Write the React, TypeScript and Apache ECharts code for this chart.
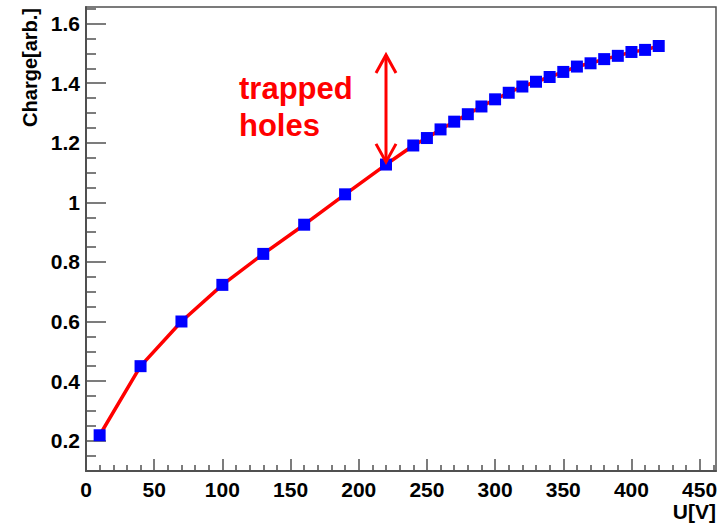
import React, { useEffect, useRef } from 'react';
import * as echarts from 'echarts';

const voltages = [10, 40, 70, 100, 130, 160, 190, 220, 240, 250, 260, 270, 280, 290, 300, 310, 320, 330, 340, 350, 360, 370, 380, 390, 400, 410, 420];
const charges = [0.218, 0.45, 0.6, 0.723, 0.827, 0.925, 1.027, 1.127, 1.191, 1.216, 1.245, 1.271, 1.296, 1.322, 1.346, 1.368, 1.389, 1.405, 1.421, 1.438, 1.456, 1.467, 1.481, 1.492, 1.505, 1.512, 1.525];

const xMajorTicks = [0, 50, 100, 150, 200, 250, 300, 350, 400, 450];
const xMinorTicks = [10, 20, 30, 40, 60, 70, 80, 90, 110, 120, 130, 140, 160, 170, 180, 190, 210, 220, 230, 240, 260, 270, 280, 290, 310, 320, 330, 340, 360, 370, 380, 390, 410, 420, 430, 440, 460];
const yMajorTicks = [0.2, 0.4, 0.6, 0.8, 1, 1.2, 1.4, 1.6];
const yMinorTicks = [0.1, 0.15, 0.25, 0.3, 0.35, 0.45, 0.5, 0.55, 0.65, 0.7, 0.75, 0.85, 0.9, 0.95, 1.05, 1.1, 1.15, 1.25, 1.3, 1.35, 1.45, 1.5, 1.55, 1.65];

const xRange = [0, 462];
const yRange = [0.098, 1.656];

const xTitle = 'U[V]';
const yTitle = 'Charge[arb.]';
const annotationText = 'trapped\nholes';
const arrowX = 220;
const arrowTop = 1.495;
const arrowBottom = 1.136;

const FONT = "'Liberation Sans', Arial, sans-serif";
const AXIS_COLOR = '#505050';

export default function App() {
  const ref = useRef<HTMLDivElement>(null);

  useEffect(() => {
    document.body.style.margin = '0';
    if (!ref.current) return;
    const chart = echarts.init(ref.current, undefined, { renderer: 'svg' });

    const hiddenAxisBase = {
      axisLine: { show: false },
      axisLabel: { show: false },
      splitLine: { show: false },
    };

    chart.setOption({
      animation: false,
      backgroundColor: '#ffffff',
      grid: {
        left: 86,
        top: 7,
        right: 6,
        bottom: 57,
        show: true,
        borderColor: AXIS_COLOR,
        borderWidth: 1.5,
        backgroundColor: 'transparent',
      },
      xAxis: [
        {
          type: 'value',
          min: xRange[0],
          max: xRange[1],
          position: 'bottom',
          axisLine: { show: true, lineStyle: { color: AXIS_COLOR, width: 2 } },
          axisTick: {
            show: true,
            inside: true,
            length: 12,
            customValues: xMajorTicks,
            lineStyle: { color: AXIS_COLOR, width: 1.5 },
          },
          axisLabel: {
            customValues: xMajorTicks,
            margin: 8,
            color: '#000',
            fontFamily: FONT,
            fontWeight: 'bold',
            fontSize: 21,
          },
          splitLine: { show: false },
        },
        {
          type: 'value',
          min: xRange[0],
          max: xRange[1],
          position: 'bottom',
          ...hiddenAxisBase,
          axisTick: {
            show: true,
            inside: true,
            length: 6,
            customValues: xMinorTicks,
            lineStyle: { color: AXIS_COLOR, width: 1.5 },
          },
        },
      ],
      yAxis: [
        {
          type: 'value',
          min: yRange[0],
          max: yRange[1],
          position: 'left',
          axisLine: { show: true, lineStyle: { color: AXIS_COLOR, width: 2 } },
          axisTick: {
            show: true,
            inside: true,
            length: 20,
            customValues: yMajorTicks,
            lineStyle: { color: AXIS_COLOR, width: 1.5 },
          },
          axisLabel: {
            customValues: yMajorTicks,
            margin: 6,
            color: '#000',
            fontFamily: FONT,
            fontWeight: 'bold',
            fontSize: 21,
            formatter: (v: number) => String(Math.round(v * 10) / 10),
          },
          splitLine: { show: false },
        },
        {
          type: 'value',
          min: yRange[0],
          max: yRange[1],
          position: 'left',
          ...hiddenAxisBase,
          axisTick: {
            show: true,
            inside: true,
            length: 10,
            customValues: yMinorTicks,
            lineStyle: { color: AXIS_COLOR, width: 1.5 },
          },
        },
      ],
      series: [
        {
          type: 'line',
          data: voltages.map((v, i) => [v, charges[i]]),
          xAxisIndex: 0,
          yAxisIndex: 0,
          lineStyle: { color: '#ff0000', width: 3.5 },
          symbol: 'rect',
          symbolSize: 12,
          showAllSymbol: true,
          itemStyle: { color: '#0000ff' },
          z: 5,
        },
      ],
    });

    const top = chart.convertToPixel({ xAxisIndex: 0, yAxisIndex: 0 }, [arrowX, arrowTop]) as number[];
    const bottom = chart.convertToPixel({ xAxisIndex: 0, yAxisIndex: 0 }, [arrowX, arrowBottom]) as number[];
    const headW = 10;
    const headH = 18;
    const red = '#ff0000';

    chart.setOption({
      graphic: [
        {
          type: 'line',
          shape: { x1: top[0], y1: top[1], x2: bottom[0], y2: bottom[1] },
          style: { stroke: red, lineWidth: 3 },
          z: 10,
        },
        {
          type: 'polyline',
          shape: { points: [[top[0] - headW, top[1] + headH], [top[0], top[1]], [top[0] + headW, top[1] + headH]] },
          style: { stroke: red, lineWidth: 3, fill: 'none' },
          z: 10,
        },
        {
          type: 'polyline',
          shape: { points: [[bottom[0] - headW, bottom[1] - headH], [bottom[0], bottom[1]], [bottom[0] + headW, bottom[1] - headH]] },
          style: { stroke: red, lineWidth: 3, fill: 'none' },
          z: 10,
        },
        {
          type: 'text',
          x: 239,
          y: 70,
          style: {
            text: annotationText,
            fill: red,
            font: `bold 31px ${FONT}`,
            lineHeight: 37,
            textAlign: 'left',
            textVerticalAlign: 'top',
          },
          z: 10,
        },
        {
          type: 'text',
          x: 716,
          y: 501,
          style: {
            text: xTitle,
            fill: '#000',
            font: `bold 21px ${FONT}`,
            textAlign: 'right',
            textVerticalAlign: 'top',
          },
        },
        {
          type: 'text',
          x: 30,
          y: 8,
          rotation: Math.PI / 2,
          style: {
            text: yTitle,
            fill: '#000',
            font: `bold 20px ${FONT}`,
            textAlign: 'right',
            textVerticalAlign: 'middle',
          },
        },
      ],
    });

    return () => chart.dispose();
  }, []);

  return (
    <div
      ref={ref}
      style={{ position: 'absolute', left: 0, top: 0, width: 722, height: 528 }}
    />
  );
}
